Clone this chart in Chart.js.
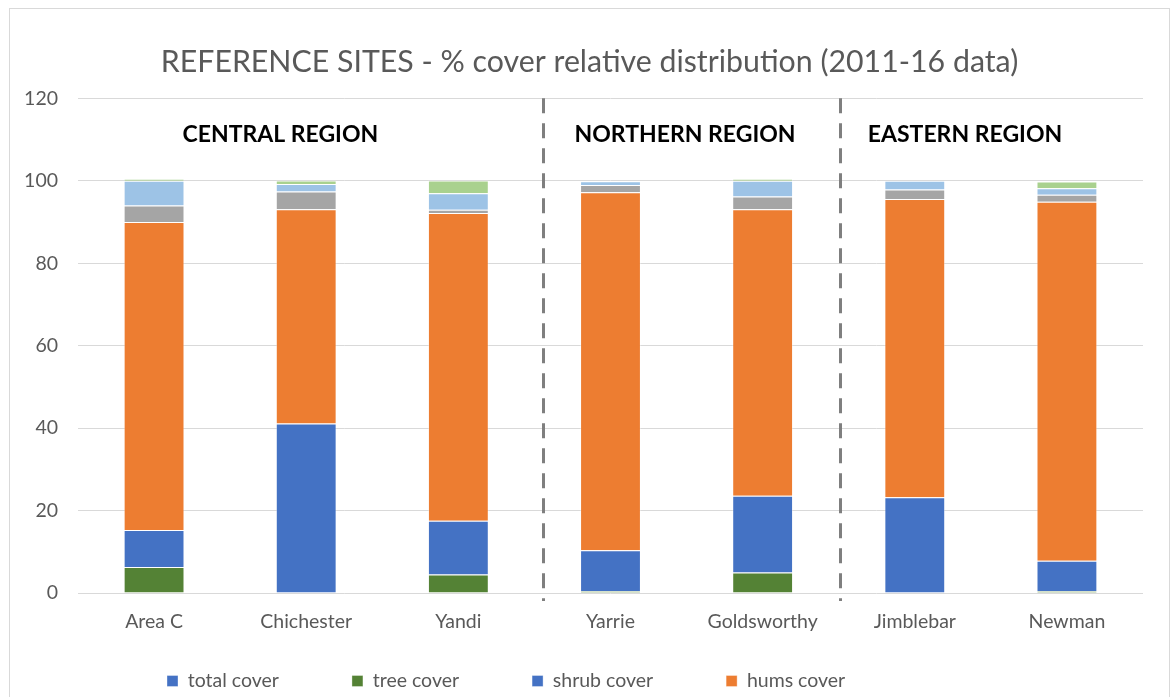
<!DOCTYPE html>
<html>
<head>
<meta charset="utf-8">
<script src="https://cdn.jsdelivr.net/npm/chart.js@4.4.0/dist/chart.umd.min.js"></script>
<style>
  html, body { margin: 0; padding: 0; background: #fff; overflow: hidden; }
  #frame { position: absolute; left: 9px; top: 8px; width: 1159px; height: 760px; border: 1px solid #d9d9d9; }
  #coverChart { position: absolute; left: 0; top: 0; }
</style>
</head>
<body>
<div id="frame"><canvas id="coverChart" width="1159" height="688"></canvas></div>
<script>
// sites along the x axis
var sites = ['Area C', 'Chichester', 'Yandi', 'Yarrie', 'Goldsworthy', 'Jimblebar', 'Newman'];

// % cover per site, stacked bottom-up
var totalCover = [0, 0, 0, 0, 0, 0, 0];
var treeCover  = [6.3, 0, 4.5, 0.5, 5.0, 0, 0.5];
var shrubCover = [9.0, 41.1, 13.0, 9.9, 18.6, 23.2, 7.3];
var humsCover  = [74.7, 52.0, 74.7, 86.8, 69.5, 72.4, 87.1];
var herbCover  = [4.0, 4.3, 0.8, 1.8, 3.1, 2.3, 1.7];
var grassCover = [6.0, 1.8, 4.0, 0.9, 3.8, 2.1, 1.6];
var otherCover = [0.5, 0.9, 3.1, 0, 0.5, 0, 1.6];

var yTicks = [0, 20, 40, 60, 80, 100, 120];

// region headings and the dividers between them (category positions)
var regionNames = ['CENTRAL REGION', 'NORTHERN REGION', 'EASTERN REGION'];
var regionAt = [0.83, 3.49, 5.33];
var regionY = 111.3;
var dividerAt = [2.556, 4.509];

var FONT = 'Lato';
var GREY = '#595959';

Chart.defaults.font.family = FONT;
Chart.defaults.color = GREY;

var regionMarks = {
    id: 'regionMarks',
    afterDatasetsDraw: function (chart) {
        var ctx = chart.ctx, area = chart.chartArea;
        var x = chart.scales.x, y = chart.scales.y;
        ctx.save();
        ctx.strokeStyle = '#7f7f7f';
        ctx.lineWidth = 3;
        ctx.setLineDash([15, 10]);
        dividerAt.forEach(function (v) {
            var px = Math.round(x.getPixelForValue(v)) + 0.5;
            ctx.beginPath();
            ctx.moveTo(px, area.top);
            ctx.lineTo(px, area.bottom + 8);
            ctx.stroke();
        });
        ctx.setLineDash([]);
        ctx.fillStyle = '#000';
        ctx.font = 'bold 23px ' + FONT;
        ctx.textAlign = 'center';
        ctx.textBaseline = 'middle';
        regionNames.forEach(function (name, i) {
            ctx.fillText(name, x.getPixelForValue(regionAt[i]), y.getPixelForValue(regionY));
        });
        ctx.restore();
    }
};

// legend sits just under the axis labels, shifted right of the default start
var placeLegend = {
    id: 'placeLegend',
    afterLayout: function (chart) {
        var lg = chart.legend;
        lg.left += 84;
        lg.right += 84;
        lg.top = chart.chartArea.bottom + 5.25;
        lg.bottom = lg.top + 120;
        lg.height = 120;
    }
};

function series(label, data, color) {
    return { label: label, data: data, backgroundColor: color,
             borderColor: 'rgba(255,255,255,0.35)', borderWidth: 1 };
}

var coverChart = new Chart(document.getElementById('coverChart'), {
    type: 'bar',
    data: {
        labels: sites,
        datasets: [
            series('total cover', totalCover, '#4472C4'),
            series('tree cover', treeCover, '#548235'),
            series('shrub cover', shrubCover, '#4472C4'),
            series('hums cover', humsCover, '#ED7D31'),
            series('herb cover', herbCover, '#A5A5A5'),
            series('grass cover', grassCover, '#9DC3E6'),
            series('other cover', otherCover, '#A9D18E')
        ]
    },
    options: {
        responsive: false,
        animation: false,
        barPercentage: 0.4,
        categoryPercentage: 1.0,
        layout: { padding: 0 },
        plugins: {
            title: {
                display: true,
                text: 'REFERENCE SITES - % cover relative distribution (2011-16 data)',
                color: GREY,
                font: { size: 30.3, weight: 'normal' },
                padding: { top: 35, bottom: 18 }
            },
            legend: {
                position: 'bottom',
                align: 'start',
                maxHeight: 60,
                labels: {
                    boxWidth: 11,
                    boxHeight: 11,
                    padding: 73,
                    color: GREY,
                    font: { size: 19.5 },
                    filter: function (item) { return item.datasetIndex < 4; }
                }
            },
            tooltip: { enabled: false }
        },
        scales: {
            x: {
                stacked: true,
                grid: { display: false },
                border: { display: false },
                ticks: { color: GREY, font: { size: 19.5 }, padding: 9 },
                afterFit: function (s) { s.height = 44; }
            },
            y: {
                stacked: true,
                min: 0,
                max: 120,
                afterBuildTicks: function (s) { s.ticks = yTicks.map(function (v) { return { value: v }; }); },
                grid: { color: '#d9d9d9', drawTicks: false },
                border: { display: false },
                ticks: { color: GREY, font: { size: 19.5 }, padding: 20 },
                afterFit: function (s) { s.width = 68; }
            },
            // empty strip on the right edge of the plot
            yRight: {
                position: 'right',
                grid: { display: false, drawOnChartArea: false },
                border: { display: false },
                ticks: { display: false },
                afterFit: function (s) { s.width = 26; }
            }
        }
    },
    plugins: [regionMarks, placeLegend]
});
</script>
</body>
</html>
